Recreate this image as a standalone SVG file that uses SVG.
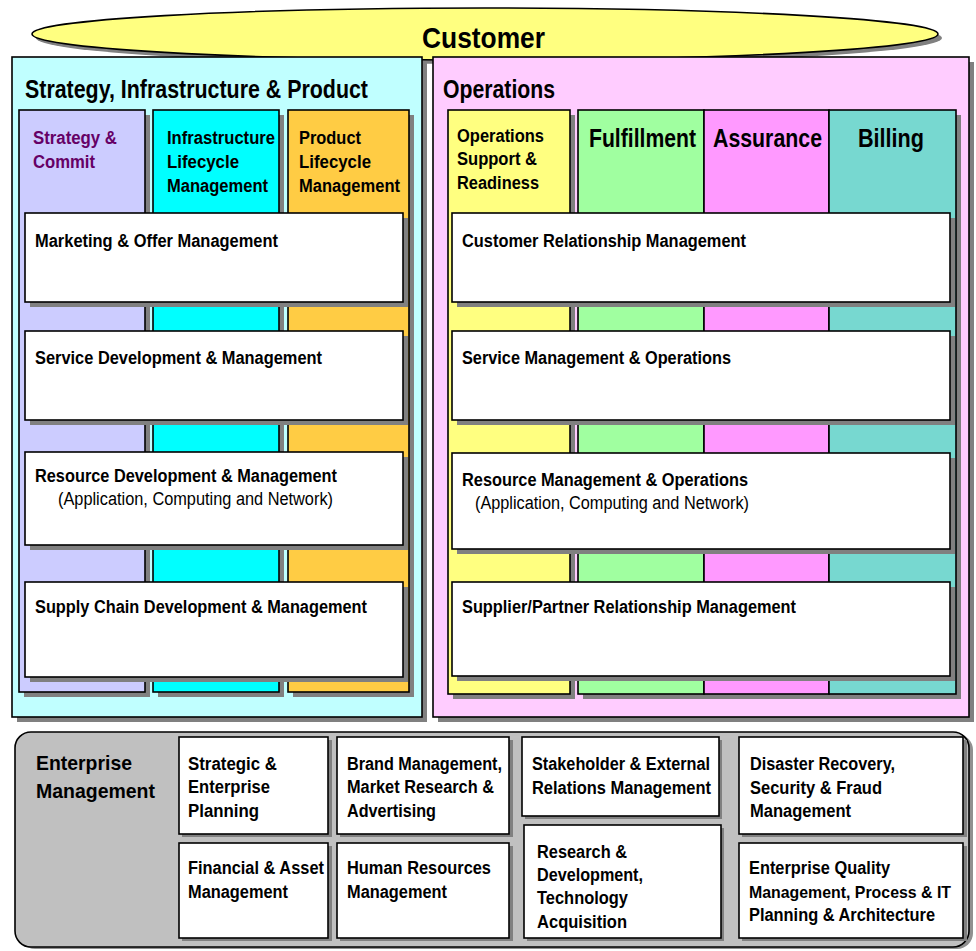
<svg xmlns="http://www.w3.org/2000/svg" width="976" height="951" viewBox="0 0 976 951">
  <style>
    .t { font-family: "Liberation Sans", Arial, sans-serif; font-weight: bold; fill: #000; }
    .r { font-family: "Liberation Sans", Arial, sans-serif; font-weight: normal; fill: #000; }
    .ln { stroke: #000; stroke-width: 1.6; }
    .sh { fill: #808080; }
    .box { fill: #fff; stroke: #000; stroke-width: 1.6; }
  </style>
  <rect width="976" height="951" fill="#fff"/>

  <!-- Customer -->
  <g id="customer">
    <ellipse class="sh" cx="489" cy="38" rx="453" ry="26"/>
    <ellipse cx="485" cy="34" rx="453" ry="26" fill="#FFFF80" class="ln"/>
    <text class="t" x="422" y="48" font-size="30" textLength="123" lengthAdjust="spacingAndGlyphs">Customer</text>
  </g>

  <!-- Strategy, Infrastructure & Product -->
  <g id="sip">
    <rect class="sh" x="17" y="62" width="410" height="660"/>
    <rect x="12" y="57" width="410" height="660" fill="#C0FFFF" class="ln"/>
    <text class="t" x="25" y="98" font-size="25" textLength="343" lengthAdjust="spacingAndGlyphs">Strategy, Infrastructure &amp; Product</text>
  </g>
  <g id="strategy-commit">
    <rect class="sh" x="24" y="115" width="126" height="582"/>
    <rect x="19" y="110" width="126" height="582" fill="#CCCCFF" class="ln"/>
    <text class="t" x="33" y="144" font-size="18" style="fill:#660066" textLength="84" lengthAdjust="spacingAndGlyphs">Strategy &amp;</text>
    <text class="t" x="33" y="168" font-size="18" style="fill:#660066" textLength="62" lengthAdjust="spacingAndGlyphs">Commit</text>
  </g>
  <g id="infrastructure-lifecycle">
    <rect class="sh" x="158" y="115" width="126" height="582"/>
    <rect x="153" y="110" width="126" height="582" fill="#00FFFF" class="ln"/>
    <text class="t" x="167" y="144" font-size="18" textLength="108" lengthAdjust="spacingAndGlyphs">Infrastructure</text>
    <text class="t" x="167" y="168" font-size="18" textLength="72" lengthAdjust="spacingAndGlyphs">Lifecycle</text>
    <text class="t" x="167" y="192" font-size="18" textLength="101" lengthAdjust="spacingAndGlyphs">Management</text>
  </g>
  <g id="product-lifecycle">
    <rect class="sh" x="293" y="115" width="121" height="582"/>
    <rect x="288" y="110" width="121" height="582" fill="#FFCC44" class="ln"/>
    <text class="t" x="299" y="144" font-size="18" textLength="62" lengthAdjust="spacingAndGlyphs">Product</text>
    <text class="t" x="299" y="168" font-size="18" textLength="72" lengthAdjust="spacingAndGlyphs">Lifecycle</text>
    <text class="t" x="299" y="192" font-size="18" textLength="101" lengthAdjust="spacingAndGlyphs">Management</text>
  </g>
  <g id="marketing-offer">
    <rect class="sh" x="30" y="218" width="378" height="89"/>
    <rect class="box" x="25" y="213" width="378" height="89"/>
    <text class="t" x="35" y="247" font-size="18" textLength="243" lengthAdjust="spacingAndGlyphs">Marketing &amp; Offer Management</text>
  </g>
  <g id="service-development">
    <rect class="sh" x="30" y="336" width="378" height="89"/>
    <rect class="box" x="25" y="331" width="378" height="89"/>
    <text class="t" x="35" y="364" font-size="18" textLength="287" lengthAdjust="spacingAndGlyphs">Service Development &amp; Management</text>
  </g>
  <g id="resource-development">
    <rect class="sh" x="30" y="457" width="378" height="93"/>
    <rect class="box" x="25" y="452" width="378" height="93"/>
    <text class="t" x="35" y="482" font-size="18" textLength="302" lengthAdjust="spacingAndGlyphs">Resource Development &amp; Management</text>
    <text class="r" x="58" y="505" font-size="18" textLength="275" lengthAdjust="spacingAndGlyphs">(Application, Computing and Network)</text>
  </g>
  <g id="supply-chain">
    <rect class="sh" x="30" y="587" width="378" height="95"/>
    <rect class="box" x="25" y="582" width="378" height="95"/>
    <text class="t" x="35" y="613" font-size="18" textLength="332" lengthAdjust="spacingAndGlyphs">Supply Chain Development &amp; Management</text>
  </g>

  <!-- Operations -->
  <g id="operations">
    <rect class="sh" x="438" y="62" width="536" height="660"/>
    <rect x="433" y="57" width="536" height="660" fill="#FFCCFF" class="ln"/>
    <text class="t" x="443" y="98" font-size="25" textLength="112" lengthAdjust="spacingAndGlyphs">Operations</text>
  </g>
  <g id="ops-support-readiness">
    <rect class="sh" x="453" y="115" width="122" height="584"/>
    <rect x="448" y="110" width="122" height="584" fill="#FFFF80" class="ln"/>
    <text class="t" x="457" y="142" font-size="18" textLength="87" lengthAdjust="spacingAndGlyphs">Operations</text>
    <text class="t" x="457" y="165" font-size="18" textLength="80" lengthAdjust="spacingAndGlyphs">Support &amp;</text>
    <text class="t" x="457" y="189" font-size="18" textLength="82" lengthAdjust="spacingAndGlyphs">Readiness</text>
  </g>
  <g id="flow-columns">
    <rect class="sh" x="583" y="115" width="378" height="584"/>
  </g>
  <g id="fulfillment">
    <rect x="578" y="110" width="126" height="584" fill="#A0FFA0" class="ln"/>
    <text class="t" x="589" y="147" font-size="25" textLength="107" lengthAdjust="spacingAndGlyphs">Fulfillment</text>
  </g>
  <g id="assurance">
    <rect x="704" y="110" width="125" height="584" fill="#FF99FF" class="ln"/>
    <text class="t" x="713" y="147" font-size="25" textLength="109" lengthAdjust="spacingAndGlyphs">Assurance</text>
  </g>
  <g id="billing">
    <rect x="829" y="110" width="127" height="584" fill="#77D8D0" class="ln"/>
    <text class="t" x="858" y="147" font-size="25" textLength="66" lengthAdjust="spacingAndGlyphs">Billing</text>
  </g>
  <g id="customer-relationship">
    <rect class="sh" x="457" y="218" width="498" height="89"/>
    <rect class="box" x="452" y="213" width="498" height="89"/>
    <text class="t" x="462" y="247" font-size="18" textLength="284" lengthAdjust="spacingAndGlyphs">Customer Relationship Management</text>
  </g>
  <g id="service-management">
    <rect class="sh" x="457" y="336" width="498" height="89"/>
    <rect class="box" x="452" y="331" width="498" height="89"/>
    <text class="t" x="462" y="364" font-size="18" textLength="269" lengthAdjust="spacingAndGlyphs">Service Management &amp; Operations</text>
  </g>
  <g id="resource-management">
    <rect class="sh" x="457" y="458" width="498" height="96"/>
    <rect class="box" x="452" y="453" width="498" height="96"/>
    <text class="t" x="462" y="486" font-size="18" textLength="286" lengthAdjust="spacingAndGlyphs">Resource Management &amp; Operations</text>
    <text class="r" x="475" y="509" font-size="18" textLength="274" lengthAdjust="spacingAndGlyphs">(Application, Computing and Network)</text>
  </g>
  <g id="supplier-partner">
    <rect class="sh" x="457" y="587" width="498" height="94"/>
    <rect class="box" x="452" y="582" width="498" height="94"/>
    <text class="t" x="462" y="613" font-size="18" textLength="334" lengthAdjust="spacingAndGlyphs">Supplier/Partner Relationship Management</text>
  </g>

  <!-- Enterprise Management -->
  <g id="enterprise-management">
    <rect x="19" y="734" width="954" height="215" rx="16" fill="#909090"/>
    <rect x="15" y="732" width="954" height="215" rx="16" fill="#C0C0C0" class="ln"/>
    <text class="t" x="36" y="770" font-size="21" textLength="96" lengthAdjust="spacingAndGlyphs">Enterprise</text>
    <text class="t" x="36" y="798" font-size="21" textLength="119" lengthAdjust="spacingAndGlyphs">Management</text>
  </g>
  <g id="strategic-planning">
    <rect class="sh" x="182" y="740" width="150" height="97"/>
    <rect class="box" x="179" y="737" width="149" height="97"/>
    <text class="t" x="188" y="770" font-size="18" textLength="89" lengthAdjust="spacingAndGlyphs">Strategic &amp;</text>
    <text class="t" x="188" y="793" font-size="18" textLength="82" lengthAdjust="spacingAndGlyphs">Enterprise</text>
    <text class="t" x="188" y="817" font-size="18" textLength="71" lengthAdjust="spacingAndGlyphs">Planning</text>
  </g>
  <g id="brand-management">
    <rect class="sh" x="340" y="740" width="173" height="97"/>
    <rect class="box" x="337" y="737" width="172" height="97"/>
    <text class="t" x="347" y="770" font-size="18" textLength="155" lengthAdjust="spacingAndGlyphs">Brand Management,</text>
    <text class="t" x="347" y="793" font-size="18" textLength="147" lengthAdjust="spacingAndGlyphs">Market Research &amp;</text>
    <text class="t" x="347" y="817" font-size="18" textLength="89" lengthAdjust="spacingAndGlyphs">Advertising</text>
  </g>
  <g id="stakeholder-relations">
    <rect class="sh" x="525" y="740" width="197" height="79"/>
    <rect class="box" x="522" y="737" width="197" height="79"/>
    <text class="t" x="532" y="770" font-size="18" textLength="178" lengthAdjust="spacingAndGlyphs">Stakeholder &amp; External</text>
    <text class="t" x="532" y="794" font-size="18" textLength="179" lengthAdjust="spacingAndGlyphs">Relations Management</text>
  </g>
  <g id="disaster-recovery">
    <rect class="sh" x="742" y="740" width="225" height="97"/>
    <rect class="box" x="739" y="737" width="224" height="97"/>
    <text class="t" x="750" y="770" font-size="18" textLength="145" lengthAdjust="spacingAndGlyphs">Disaster Recovery,</text>
    <text class="t" x="750" y="794" font-size="18" textLength="132" lengthAdjust="spacingAndGlyphs">Security &amp; Fraud</text>
    <text class="t" x="750" y="817" font-size="18" textLength="101" lengthAdjust="spacingAndGlyphs">Management</text>
  </g>
  <g id="financial-asset">
    <rect class="sh" x="182" y="846" width="150" height="95"/>
    <rect class="box" x="179" y="843" width="149" height="95"/>
    <text class="t" x="188" y="874" font-size="18" textLength="136" lengthAdjust="spacingAndGlyphs">Financial &amp; Asset</text>
    <text class="t" x="188" y="898" font-size="18" textLength="100" lengthAdjust="spacingAndGlyphs">Management</text>
  </g>
  <g id="human-resources">
    <rect class="sh" x="340" y="846" width="173" height="95"/>
    <rect class="box" x="337" y="843" width="172" height="95"/>
    <text class="t" x="347" y="874" font-size="18" textLength="144" lengthAdjust="spacingAndGlyphs">Human Resources</text>
    <text class="t" x="347" y="898" font-size="18" textLength="100" lengthAdjust="spacingAndGlyphs">Management</text>
  </g>
  <g id="research-development">
    <rect class="sh" x="527" y="828" width="197" height="113"/>
    <rect class="box" x="524" y="825" width="197" height="113"/>
    <text class="t" x="537" y="858" font-size="18" textLength="90" lengthAdjust="spacingAndGlyphs">Research &amp;</text>
    <text class="t" x="537" y="881" font-size="18" textLength="106" lengthAdjust="spacingAndGlyphs">Development,</text>
    <text class="t" x="537" y="904" font-size="18" textLength="91" lengthAdjust="spacingAndGlyphs">Technology</text>
    <text class="t" x="537" y="928" font-size="18" textLength="90" lengthAdjust="spacingAndGlyphs">Acquisition</text>
  </g>
  <g id="enterprise-quality">
    <rect class="sh" x="742" y="846" width="225" height="95"/>
    <rect class="box" x="739" y="843" width="224" height="95"/>
    <text class="t" x="749" y="874" font-size="18" textLength="141" lengthAdjust="spacingAndGlyphs">Enterprise Quality</text>
    <text class="t" x="749" y="898" font-size="17" textLength="202" lengthAdjust="spacingAndGlyphs">Management, Process &amp; IT</text>
    <text class="t" x="749" y="921" font-size="18" textLength="186" lengthAdjust="spacingAndGlyphs">Planning &amp; Architecture</text>
  </g>
</svg>
